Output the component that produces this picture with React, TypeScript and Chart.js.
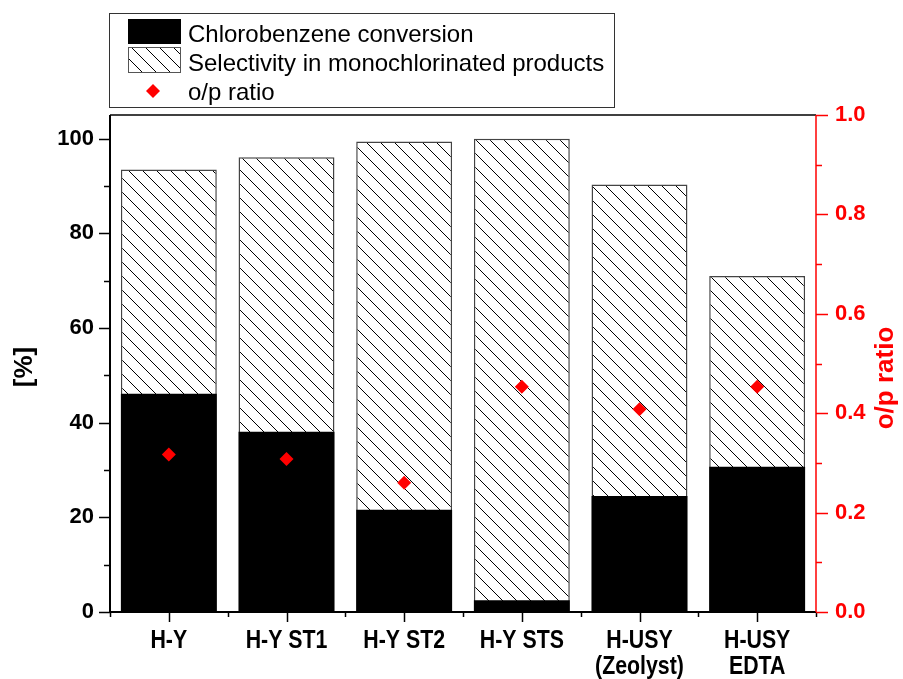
import React, { useEffect, useRef } from 'react';
import { Chart, registerables } from 'chart.js';

Chart.register(...registerables);

// ---- data ----
const categories: string[][] = [
  ['H-Y'],
  ['H-Y ST1'],
  ['H-Y ST2'],
  ['H-Y STS'],
  ['H-USY', '(Zeolyst)'],
  ['H-USY', 'EDTA'],
];
const conversion = [46.1, 38.1, 21.6, 2.5, 24.5, 30.7];
const selectivity = [93.5, 96.1, 99.4, 100.0, 90.3, 71.0];
const opRatio = [0.317, 0.308, 0.26, 0.453, 0.408, 0.453];

const leftTickValues = [0, 10, 20, 30, 40, 50, 60, 70, 80, 90, 100];
const rightTickValues = [0, 0.1, 0.2, 0.3, 0.4, 0.5, 0.6, 0.7, 0.8, 0.9, 1.0];

const seriesNames = ['Chlorobenzene conversion', 'Selectivity in monochlorinated products', 'o/p ratio'];
const leftTitle = '[%]';
const rightTitle = 'o/p ratio';

const RED = '#ff0000';
const SANS = '"Liberation Sans", Arial, Helvetica, sans-serif';

function makeHatch(): CanvasPattern | string {
  const s = 14;
  const c = document.createElement('canvas');
  c.width = s;
  c.height = s;
  const g = c.getContext('2d');
  if (!g) return '#fff';
  g.fillStyle = '#fff';
  g.fillRect(0, 0, s, s);
  g.strokeStyle = '#000';
  g.lineWidth = 1;
  g.beginPath();
  g.moveTo(-2, -2);
  g.lineTo(s + 2, s + 2);
  g.moveTo(-2, s - 2);
  g.lineTo(2, s + 2);
  g.moveTo(s - 2, -2);
  g.lineTo(s + 2, 2);
  g.stroke();
  const p = g.createPattern(c, 'repeat');
  return p || '#fff';
}

export default function App() {
  const ref = useRef<HTMLCanvasElement | null>(null);

  useEffect(() => {
    const canvas = ref.current;
    if (!canvas) return;
    const hatch = makeHatch();

    const axesPlugin = {
      id: 'customAxes',
      afterDraw(chart: any) {
        const { ctx, chartArea } = chart;
        const { left, right, top, bottom } = chartArea;
        const x = chart.scales.x;
        const y = chart.scales.y;
        const y2 = chart.scales.y2;
        ctx.save();

        // top frame line
        ctx.strokeStyle = '#000';
        ctx.lineWidth = 1.5;
        ctx.beginPath();
        ctx.moveTo(left, top);
        ctx.lineTo(right, top);
        ctx.stroke();

        // left axis
        ctx.lineWidth = 2;
        ctx.beginPath();
        ctx.moveTo(left, top);
        ctx.lineTo(left, bottom + 1);
        ctx.stroke();
        // left ticks
        ctx.lineWidth = 1.5;
        leftTickValues.forEach((v) => {
          const p = Math.round(y.getPixelForValue(v)) + 0.5;
          const len = v % 20 === 0 ? 11 : 6;
          ctx.beginPath();
          ctx.moveTo(left - len, p);
          ctx.lineTo(left, p);
          ctx.stroke();
        });

        // bottom axis
        ctx.lineWidth = 2;
        ctx.beginPath();
        ctx.moveTo(left, bottom);
        ctx.lineTo(right, bottom);
        ctx.stroke();
        ctx.lineWidth = 1.5;
        for (let i = 0; i < categories.length; i++) {
          const p = Math.round(x.getPixelForValue(i)) + 0.5;
          ctx.beginPath();
          ctx.moveTo(p, bottom);
          ctx.lineTo(p, bottom + 10);
          ctx.stroke();
        }
        for (let i = 0; i <= categories.length; i++) {
          const p = Math.round(x.getPixelForValue(i - 0.5)) + 0.5;
          ctx.beginPath();
          ctx.moveTo(p, bottom);
          ctx.lineTo(p, bottom + 5);
          ctx.stroke();
        }

        // category labels (bold, condensed)
        ctx.fillStyle = '#000';
        ctx.font = `bold 26px ${SANS}`;
        ctx.textAlign = 'center';
        ctx.textBaseline = 'alphabetic';
        categories.forEach((lines, i) => {
          const px = x.getPixelForValue(i);
          lines.forEach((line, j) => {
            ctx.save();
            ctx.translate(px, bottom + 36 + j * 26);
            ctx.scale(0.82, 1);
            ctx.fillText(line, 0, 0);
            ctx.restore();
          });
        });

        // right axis (red)
        ctx.strokeStyle = RED;
        ctx.lineWidth = 1.5;
        ctx.beginPath();
        ctx.moveTo(right, top);
        ctx.lineTo(right, bottom);
        ctx.stroke();
        rightTickValues.forEach((v, i) => {
          const p = Math.round(y2.getPixelForValue(v)) + 0.5;
          const len = i % 2 === 0 ? 12 : 6;
          ctx.beginPath();
          ctx.moveTo(right, p);
          ctx.lineTo(right + len, p);
          ctx.stroke();
        });

        // axis titles
        ctx.font = `bold 26px ${SANS}`;
        ctx.textAlign = 'center';
        ctx.textBaseline = 'middle';
        ctx.fillStyle = '#000';
        ctx.save();
        ctx.translate(25, 367);
        ctx.rotate(-Math.PI / 2);
        ctx.fillText(leftTitle, 0, 0);
        ctx.restore();
        ctx.fillStyle = RED;
        ctx.save();
        ctx.translate(886, 378);
        ctx.rotate(-Math.PI / 2);
        ctx.fillText(rightTitle, 0, 0);
        ctx.restore();

        // legend
        ctx.strokeStyle = '#333';
        ctx.lineWidth = 1;
        ctx.fillStyle = '#fff';
        ctx.fillRect(109.5, 13.5, 505, 94);
        ctx.strokeRect(109.5, 13.5, 505, 94);
        ctx.fillStyle = '#000';
        ctx.fillRect(128, 19, 53, 25);
        ctx.fillStyle = hatch as any;
        ctx.fillRect(128, 47, 53, 26);
        ctx.strokeStyle = '#555';
        ctx.strokeRect(128.5, 47.5, 52, 25);
        ctx.fillStyle = RED;
        ctx.beginPath();
        ctx.moveTo(153, 84);
        ctx.lineTo(160, 91);
        ctx.lineTo(153, 98);
        ctx.lineTo(146, 91);
        ctx.closePath();
        ctx.fill();
        ctx.fillStyle = '#000';
        ctx.font = `24px ${SANS}`;
        ctx.textAlign = 'left';
        ctx.textBaseline = 'alphabetic';
        ctx.fillText(seriesNames[0], 188, 41.5);
        ctx.fillText(seriesNames[1], 188, 71);
        ctx.fillText(seriesNames[2], 188, 99.5);

        ctx.restore();
      },
    };

    const chart = new Chart(canvas, {
      type: 'bar',
      data: {
        labels: categories as any,
        datasets: [
          {
            type: 'line',
            label: seriesNames[2],
            data: opRatio,
            yAxisID: 'y2',
            showLine: false,
            pointStyle: 'rectRot',
            pointRadius: 7,
            pointHoverRadius: 7,
            pointBackgroundColor: RED,
            pointBorderWidth: 0,
            backgroundColor: RED,
            borderColor: RED,
            borderWidth: 0,
            order: 0,
          } as any,
          {
            type: 'bar',
            label: seriesNames[0],
            data: conversion,
            yAxisID: 'y',
            backgroundColor: '#000',
            borderColor: '#000',
            borderWidth: 0,
            grouped: false,
            barPercentage: 0.815,
            categoryPercentage: 1,
            order: 1,
          } as any,
          {
            type: 'bar',
            label: seriesNames[1],
            data: selectivity,
            yAxisID: 'y',
            backgroundColor: hatch as any,
            borderColor: '#444',
            borderWidth: 1.5,
            grouped: false,
            barPercentage: 0.815,
            categoryPercentage: 1,
            order: 2,
          } as any,
        ],
      },
      options: {
        responsive: false,
        animation: false,
        devicePixelRatio: 1,
        layout: { padding: { top: 115, left: 0, right: 0, bottom: 0 } },
        plugins: {
          legend: { display: false },
          tooltip: { enabled: false },
        },
        scales: {
          x: {
            type: 'category',
            offset: true,
            grid: { display: false, drawTicks: false },
            border: { display: false },
            ticks: { display: false, autoSkip: false },
            afterFit: (s: any) => {
              s.height = 67;
            },
          },
          y: {
            position: 'left',
            min: 0,
            max: 105,
            grid: { display: false, drawTicks: false },
            border: { display: false },
            ticks: {
              stepSize: 10,
              includeBounds: false,
              color: '#000',
              font: { family: SANS, size: 22, weight: 'bold' },
              padding: 16,
              callback: (v: any) => (Math.round(v) % 20 === 0 ? String(Math.round(v)) : ''),
            },
            afterFit: (s: any) => {
              s.width = 110;
            },
          },
          y2: {
            position: 'right',
            min: 0,
            max: 1,
            grid: { display: false, drawTicks: false },
            border: { display: false },
            ticks: {
              stepSize: 0.1,
              color: RED,
              font: { family: SANS, size: 22, weight: 'bold' },
              padding: 19,
              callback: (v: any) => (Math.round(v * 10) % 2 === 0 ? Number(v).toFixed(1) : ''),
            },
            afterFit: (s: any) => {
              s.width = 87;
            },
          },
        },
      } as any,
      plugins: [axesPlugin],
    });

    return () => {
      chart.destroy();
    };
  }, []);

  return (
    <div style={{ position: 'fixed', left: 0, top: 0, width: 903, height: 679, background: '#fff' }}>
      <canvas ref={ref} width={903} height={679} style={{ display: 'block', width: 903, height: 679 }} />
    </div>
  );
}
